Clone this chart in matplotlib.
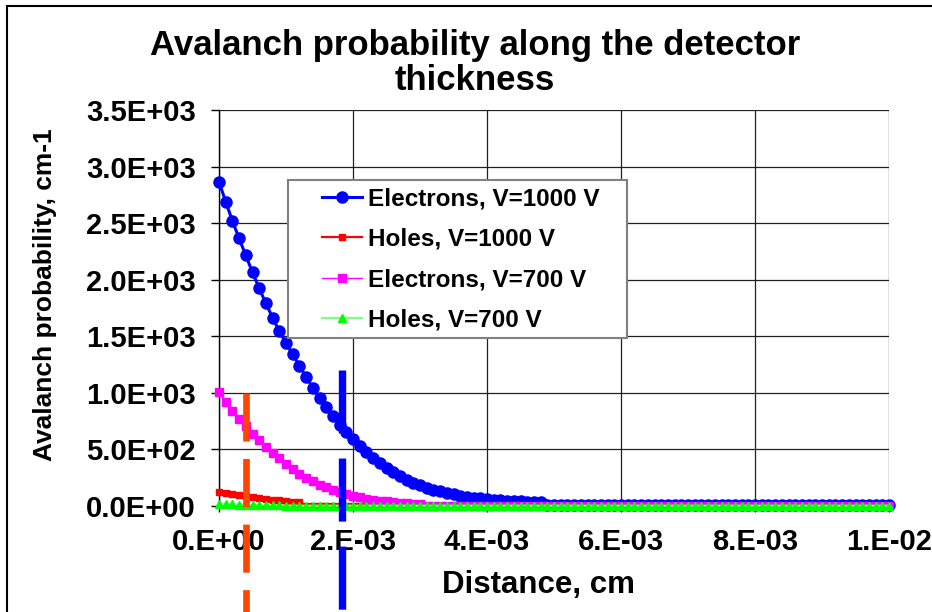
import matplotlib
matplotlib.use("Agg")
import matplotlib.pyplot as plt
import numpy as np
from matplotlib.patches import Rectangle
from matplotlib.ticker import FixedLocator, FuncFormatter

plt.rcParams["font.family"] = ["Liberation Sans", "DejaVu Sans"]
plt.rcParams["font.weight"] = "bold"
plt.rcParams["lines.scale_dashes"] = False

# ---------------------------------------------------------------------------
# Data, distance in cm, 1e-4 cm step
# ---------------------------------------------------------------------------

distance = np.round(np.arange(101) * 1e-4, 6)

electrons_1000 = [
    2865, 2690, 2520, 2365, 2215, 2065, 1925, 1790, 1665, 1545,
    1440, 1340, 1240, 1140, 1045, 955, 872, 795, 720, 652,
    588, 528, 476, 424, 377, 335, 297, 262, 232, 206,
    183, 163, 145, 129, 115, 103, 92, 83, 75, 68,
    62, 57, 52, 48, 44, 41, 38, 35, 32, 6,
    6, 6, 6, 6, 6, 6, 6, 6, 6, 6,
    6, 6, 6, 6, 6, 6, 6, 6, 6, 6,
    6, 6, 6, 6, 6, 6, 6, 6, 6, 6,
    6, 6, 6, 6, 6, 6, 6, 6, 6, 6,
    6, 6, 6, 6, 6, 6, 6, 6, 6, 6,
    6,
]

holes_1000 = [
    125, 114, 103, 93, 84, 76, 68, 61, 55, 49,
    44, 39, 35, 3, 3, 3, 3, 3, 3, 3,
    3, 3, 3, 3, 3, 3, 3, 3, 3, 3,
    3, 3, 3, 3, 3, 3, 3, 3, 3, 3,
    3, 3, 3, 3, 3, 3, 3, 3, 3, 3,
    3, 3, 3, 3, 3, 3, 3, 3, 3, 3,
    3, 3, 3, 3, 3, 3, 3, 3, 3, 3,
    3, 3, 3, 3, 3, 3, 3, 3, 3, 3,
    3, 3, 3, 3, 3, 3, 3, 3, 3, 3,
    3, 3, 3, 3, 3, 3, 3, 3, 3, 3,
    3,
]

electrons_700 = [
    1005, 920, 840, 770, 705, 640, 580, 522, 470, 420,
    372, 327, 287, 251, 219, 190, 164, 141, 121, 104,
    89, 76, 65, 56, 48, 41, 35, 30, 26, 22,
    19, 4, 4, 4, 4, 4, 4, 4, 4, 4,
    4, 4, 4, 4, 4, 4, 4, 4, 4, 4,
    4, 4, 4, 4, 4, 4, 4, 4, 4, 4,
    4, 4, 4, 4, 4, 4, 4, 4, 4, 4,
    4, 4, 4, 4, 4, 4, 4, 4, 4, 4,
    4, 4, 4, 4, 4, 4, 4, 4, 4, 4,
    4, 4, 4, 4, 4, 4, 4, 4, 4, 4,
    4,
]

holes_700 = [
    20, 17, 15, 13, 11, 9, 8, 7, 6, 5,
    4, 3, 2, 2, 2, 2, 2, 2, 2, 2,
    2, 2, 2, 2, 2, 2, 2, 2, 2, 2,
    2, 2, 2, 2, 2, 2, 2, 2, 2, 2,
    2, 2, 2, 2, 2, 2, 2, 2, 2, 2,
    2, 2, 2, 2, 2, 2, 2, 2, 2, 2,
    2, 2, 2, 2, 2, 2, 2, 2, 2, 2,
    2, 2, 2, 2, 2, 2, 2, 2, 2, 2,
    2, 2, 2, 2, 2, 2, 2, 2, 2, 2,
    2, 2, 2, 2, 2, 2, 2, 2, 2, 2,
    2,
]

# hand-drawn vertical markers on the original (x position, top value)
holes_mark = (4.0e-4, 1000)
electrons_mark = (1.84e-3, 1205)

x_ticks = [0, 2e-3, 4e-3, 6e-3, 8e-3, 1e-2]
y_ticks = [0, 500, 1000, 1500, 2000, 2500, 3000, 3500]

# ---------------------------------------------------------------------------
# Figure
# ---------------------------------------------------------------------------

W, H = 932, 612
fig = plt.figure(figsize=(W / 100, H / 100), dpi=100)
ax = fig.add_axes([219 / W, 106 / H, 670 / W, 396 / H])

ax.plot(distance, electrons_1000, color="#0000FF", lw=2.2, marker="o", ms=8,
        label="Electrons, V=1000 V", clip_on=False, zorder=3)
ax.plot(distance, holes_1000, color="#FF0000", lw=1.6, marker="s", ms=4.4,
        label="Holes, V=1000 V", clip_on=False, zorder=3.1)
ax.plot(distance, electrons_700, color="#FF00FF", lw=1.0, marker="s", ms=5.6,
        label="Electrons, V=700 V", clip_on=False, zorder=3.2)
ax.plot(distance, holes_700, color="#80FF80", lw=1.6, marker="^", ms=5.8,
        mfc="#00FF00", mec="#00FF00", label="Holes, V=700 V",
        clip_on=False, zorder=3.3)

# dashed vertical markers running past the axis
ax.plot([holes_mark[0]] * 2, [holes_mark[1], -1000], color="#FF4500", lw=4.8,
        dashes=(34.6, 12.6), clip_on=False, zorder=6)
ax.plot([electrons_mark[0]] * 2, [electrons_mark[1], -1000], color="#0000FF",
        lw=5.3, dashes=(45.4, 18.0), clip_on=False, zorder=6)

ax.set_xlim(0, 1e-2)
ax.set_ylim(0, 3500)
ax.xaxis.set_major_locator(FixedLocator(x_ticks))
ax.yaxis.set_major_locator(FixedLocator(y_ticks))
ax.xaxis.set_major_formatter(FuncFormatter(lambda v, p: f"{v:#.0E}"))
ax.yaxis.set_major_formatter(FuncFormatter(lambda v, p: f"{v:.1E}"))
ax.tick_params(axis="y", direction="out", length=5.8, width=1, pad=10.8,
               labelsize=21)
ax.tick_params(axis="x", direction="out", length=4.3, width=1, pad=11.5,
               labelsize=21)
for lab in ax.get_xticklabels() + ax.get_yticklabels():
    lab.set_fontweight("bold")

ax.grid(True, color="#202020", lw=0.9)
ax.set_axisbelow(True)
for side in ("top", "right"):
    ax.spines[side].set_visible(False)
for side in ("left", "bottom"):
    ax.spines[side].set_color("black")
    ax.spines[side].set_linewidth(1.0)

ax.set_xlabel("Distance, cm", fontsize=22.5, fontweight="bold")
ax.xaxis.set_label_coords((539 - 219) / 670, (506 - 585) / 396)
ax.xaxis.label.set_va("center")
ax.set_ylabel("Avalanch probability, cm-1", fontsize=19, fontweight="bold")
ax.yaxis.set_label_coords((45 - 219) / 670, (506 - 295) / 396)
ax.yaxis.label.set_va("center")

fig.text(475 / W, 1 - 63 / H,
         "Avalanch probability along the detector\nthickness",
         ha="center", va="center", fontsize=25, fontweight="bold",
         linespacing=1.07)

# legend box (frame drawn separately to match the original padding)
frame = Rectangle((288 / W, 1 - 338 / H), 339 / W, 158 / H,
                  transform=fig.transFigure, fc="white", ec="#808080",
                  lw=1.5, zorder=4.5, clip_on=False)
ax.add_artist(frame)
leg = ax.legend(loc="center left", bbox_to_anchor=(322 / W, 1 - 259.5 / H),
                bbox_transform=fig.transFigure, frameon=False, borderpad=0,
                borderaxespad=0, handlelength=1.65, handletextpad=0.26,
                labelspacing=0.7, prop={"size": 17.5, "weight": "bold"})
leg.set_zorder(5)

# outer chart border
fig.add_artist(Rectangle((7 / W, -0.05), 1.0, 1.05 - 6 / H,
                         transform=fig.transFigure, fill=False,
                         ec="black", lw=1.5))

fig.savefig("out.png", dpi=100)
